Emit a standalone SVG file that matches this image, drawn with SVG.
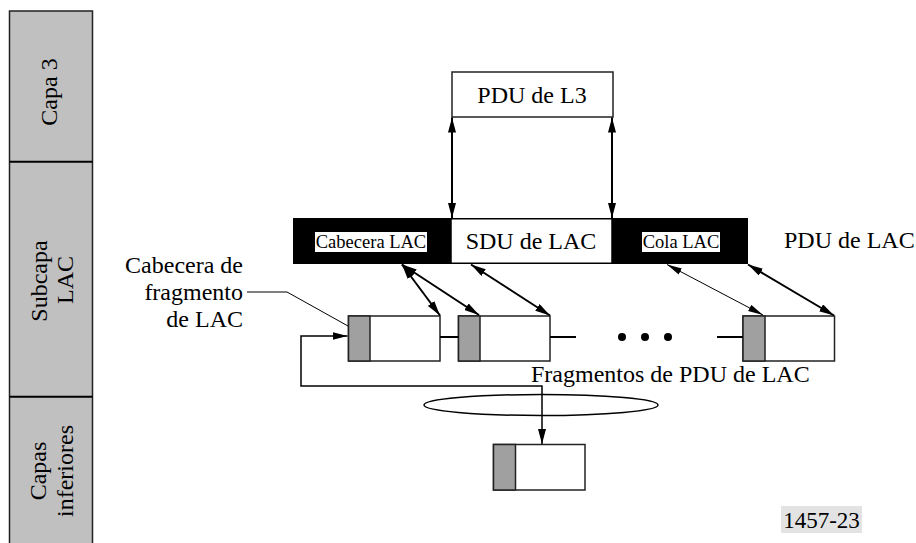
<svg xmlns="http://www.w3.org/2000/svg" width="916" height="543" viewBox="0 0 916 543" font-family="'Liberation Serif', 'Times New Roman', serif">
<defs>
<style>
text{fill:#000}
.big{font-size:24px}
.small{font-size:18.5px}
.frame{fill:#fff;stroke:#222;stroke-width:1.5}
.hdr{fill:#a0a0a0;stroke:#222;stroke-width:1.5}
.conn{fill:none;stroke:#000;stroke-width:2}
.thin{fill:none;stroke:#000;stroke-width:1}
.loop{fill:none;stroke:#000;stroke-width:1.5}
</style>
<marker id="ah" markerUnits="userSpaceOnUse" markerWidth="16" markerHeight="8" refX="15" refY="4" orient="auto-start-reverse" viewBox="0 0 16 8">
<path d="M0,0 L15,4 L0,8 z" fill="#000"/>
</marker>
<marker id="ahs" markerUnits="userSpaceOnUse" markerWidth="16" markerHeight="8" refX="15" refY="4" orient="auto-start-reverse" viewBox="0 0 16 8">
<path d="M0,0.5 L15,4 L0,7.5 z" fill="#000"/>
</marker>
</defs>
<rect width="916" height="543" fill="#fff"/>

<g id="layers">
<rect x="9.5" y="11" width="83" height="540" fill="#c0c0c0" stroke="#222" stroke-width="1.5"/>
<line x1="9.5" y1="161.7" x2="92.5" y2="161.7" stroke="#000" stroke-width="2"/>
<line x1="9.5" y1="396.7" x2="92.5" y2="396.7" stroke="#000" stroke-width="2"/>
<text class="big" text-anchor="middle" transform="translate(57,92) rotate(-90)">Capa 3</text>
<text class="big" text-anchor="middle" transform="translate(46.5,281) rotate(-90)">Subcapa</text>
<text class="big" text-anchor="middle" transform="translate(72.5,280) rotate(-90)">LAC</text>
<text class="big" text-anchor="middle" transform="translate(46,471) rotate(-90)">Capas</text>
<text class="big" text-anchor="middle" transform="translate(73,471) rotate(-90)">inferiores</text>
</g>

<g id="pdu-l3">
<rect x="452" y="72" width="161" height="45" fill="#fff" stroke="#222" stroke-width="1.5"/>
<text class="big" x="532" y="103" text-anchor="middle">PDU de L3</text>
</g>

<g id="pdu-lac">
<rect x="293" y="218" width="455" height="46" fill="#000"/>
<rect x="451" y="218.75" width="161" height="44.5" fill="#fff" stroke="#000" stroke-width="1.5"/>
<text class="big" x="531" y="249" text-anchor="middle">SDU de LAC</text>
<rect x="315" y="232" width="112" height="20" fill="#fff"/>
<text class="small" x="371" y="248" text-anchor="middle">Cabecera LAC</text>
<rect x="642" y="232" width="78" height="20" fill="#fff"/>
<text class="small" x="681" y="248" text-anchor="middle">Cola LAC</text>
<text class="big" x="784" y="248">PDU de LAC</text>
</g>

<g id="frag1">
<rect class="frame" x="348.5" y="316" width="91.5" height="45"/>
<rect class="hdr" x="348.5" y="316" width="21.5" height="45"/>
</g>
<g id="frag2">
<rect class="frame" x="458.5" y="316" width="91.5" height="45"/>
<rect class="hdr" x="458.5" y="316" width="21.5" height="45"/>
</g>
<g id="frag3">
<rect class="frame" x="743" y="316" width="91.5" height="45"/>
<rect class="hdr" x="743" y="316" width="22" height="45"/>
</g>
<g id="frag-lower">
<rect class="frame" x="493.5" y="444.5" width="91.5" height="45.5"/>
<rect class="hdr" x="493.5" y="444.5" width="22" height="45.5"/>
</g>

<g id="labels">
<text class="big" text-anchor="end" x="243" y="273">Cabecera de</text>
<text class="big" text-anchor="end" x="243" y="300">fragmento</text>
<text class="big" text-anchor="end" x="243" y="327">de LAC</text>
<text class="big" x="531" y="382">Fragmentos de PDU de LAC</text>
<rect x="781" y="506" width="81" height="27" fill="#e3e3e3"/>
<text x="821.5" y="528" text-anchor="middle" font-size="23">1457-23</text>
</g>

<g id="connectors">
<line class="conn" x1="452" y1="117.5" x2="452" y2="218" marker-start="url(#ah)" marker-end="url(#ah)"/>
<line class="conn" x1="612" y1="117.5" x2="612" y2="218" marker-start="url(#ah)" marker-end="url(#ah)"/>
<line class="conn" x1="402" y1="264.5" x2="440" y2="315.5" marker-start="url(#ah)" marker-end="url(#ah)"/>
<line class="conn" x1="402" y1="264.5" x2="479" y2="315" marker-start="url(#ah)" marker-end="url(#ah)"/>
<line class="conn" x1="471" y1="264.5" x2="550" y2="315.5" marker-start="url(#ah)" marker-end="url(#ah)"/>
<line class="thin" x1="667" y1="264.5" x2="763" y2="315" marker-start="url(#ahs)" marker-end="url(#ahs)"/>
<line class="conn" x1="748" y1="264.5" x2="834" y2="315.5" marker-start="url(#ah)" marker-end="url(#ah)"/>
<line class="conn" x1="440" y1="337" x2="458.5" y2="337"/>
<line class="conn" x1="550" y1="337" x2="576" y2="337"/>
<line class="conn" x1="717" y1="337" x2="743" y2="337"/>
<circle cx="622" cy="337" r="4" fill="#000"/>
<circle cx="645" cy="337" r="4" fill="#000"/>
<circle cx="668" cy="337" r="4" fill="#000"/>
<path class="thin" d="M247,292 H287 L348,326"/>
<path class="loop" d="M347.5,336 H301 V386 H542 V444" marker-start="url(#ah)" marker-end="url(#ah)"/>
<ellipse cx="541" cy="405" rx="117" ry="10.5" fill="none" stroke="#000" stroke-width="1.5"/>
</g>
</svg>
